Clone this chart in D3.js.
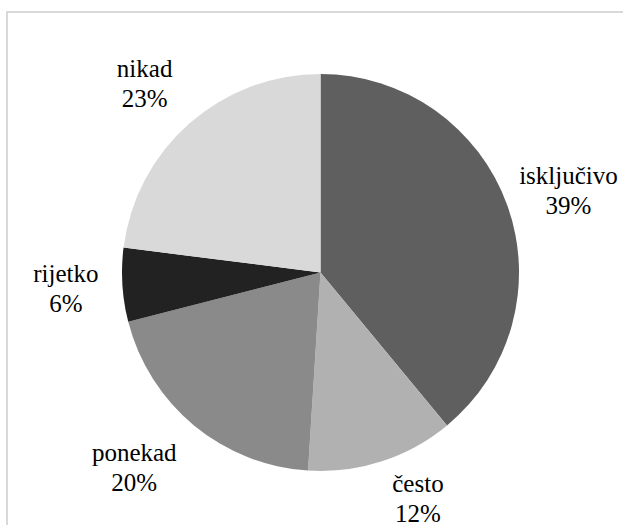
<!DOCTYPE html>
<html>
<head>
<meta charset="utf-8">
<script src="https://cdn.jsdelivr.net/npm/d3@7"></script>
</head>
<body style="margin:0">
<svg id="chart" width="623" height="525"></svg>
<script>
// Share of answers per frequency category (percent)
const categories = ["isključivo", "često", "ponekad", "rijetko", "nikad"];
const values = [39, 12, 20, 6, 23];
const sliceColors = ["#5f5f5f", "#b1b1b1", "#8a8a8a", "#222222", "#d9d9d9"];

// Hand-tuned label shifts (px) after the outside-end placement
const labelShift = [[-4, 1], [22, -12], [-20, 2], [-4, -1], [-13, -4]];

const W = 623, H = 525;
const cx = 320.5, cy = 272.5, radius = 198.5;
const labelGap = 20, lineHeight = 30;
const labelFont = '"Liberation Serif", Tinos, "Times New Roman", serif';

const svg = d3.select("#chart");

// Chart area frame (runs past the right and bottom edges)
svg.append("rect")
  .attr("x", 7).attr("y", 12)
  .attr("width", W + 20).attr("height", H + 20)
  .attr("fill", "#fff")
  .attr("stroke", "#d9d9d9")
  .attr("stroke-width", 2);

const data = categories.map((c, i) => ({ name: c, value: values[i], color: sliceColors[i], shift: labelShift[i] }));

const pie = d3.pie().value(d => d.value).sort(null);
const arc = d3.arc().innerRadius(0).outerRadius(radius);
const arcs = pie(data);

svg.append("g")
  .attr("transform", `translate(${cx},${cy})`)
  .selectAll("path")
  .data(arcs)
  .join("path")
  .attr("d", arc)
  .attr("fill", d => d.data.color);

// Two-line labels (name, percent), one text element per line
const labelLines = arcs.flatMap(d => [
  { arc: d, line: 0, text: d.data.name },
  { arc: d, line: 1, text: d.data.value + "%" }
]);

const texts = svg.append("g")
  .selectAll("text")
  .data(labelLines)
  .join("text")
  .style("font-family", labelFont, "important")
  .style("font-size", "25px", "important")
  .style("fill", "#000")
  .text(d => d.text);

texts.each(function(d) { d.width = this.getComputedTextLength(); });

// Outside-end placement: the box side facing the pie sits at radius + gap
texts.each(function(d) {
  const a = (d.arc.startAngle + d.arc.endAngle) / 2;
  const boxW = d3.max(labelLines.filter(l => l.arc === d.arc), l => l.width);
  const h = lineHeight * 2;
  const dx = Math.sin(a), dy = -Math.cos(a);
  const r = radius + labelGap;
  const bx = cx + r * dx + dx * boxW / 2 + d.arc.data.shift[0];
  const by = cy + r * dy + dy * h / 2 + d.arc.data.shift[1];
  const base1 = by - h / 2 + 24.8;
  d3.select(this)
    .attr("x", bx - d.width / 2)
    .attr("y", base1 + d.line * lineHeight);
});
</script>
</body>
</html>
